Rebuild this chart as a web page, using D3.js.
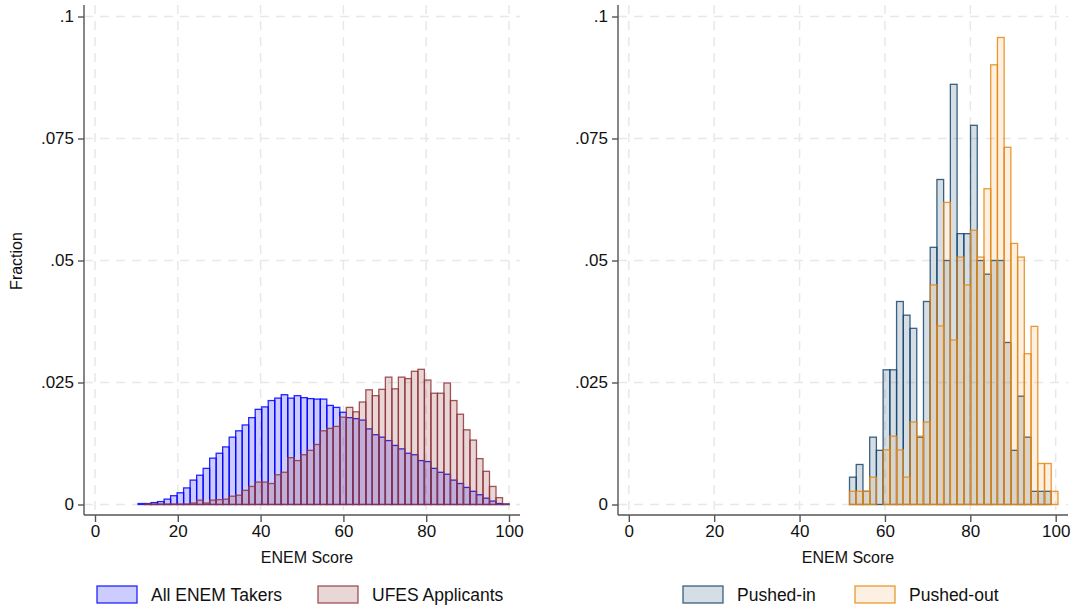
<!DOCTYPE html>
<html>
<head>
  <meta charset="UTF-8">
  <title>ENEM Score Histograms</title>
  <script src="https://d3js.org/d3.v7.min.js"></script>
  <style>
    body {
      margin: 0;
      padding: 0;
      background-color: #ffffff;
      font-family: 'Liberation Sans', Arial, Helvetica, sans-serif;
    }
    .axis text {
      font-size: 17px;
      fill: #111;
      font-family: 'Liberation Sans', Arial, Helvetica, sans-serif;
    }
    .axis path, .axis line {
      stroke: #555;
      stroke-width: 1.4;
    }
    .grid line {
      stroke: #e8e8e8;
      stroke-width: 1.5;
      stroke-dasharray: 9 7;
    }
    .label {
      font-size: 16px;
      fill: #111;
    }
    .legend {
      font-size: 17.5px;
      fill: #111;
    }
  </style>
</head>
<body>
  <svg id="chart" width="1073" height="610"></svg>
  <script>
    // left panel: all ENEM takers vs UFES applicants
    const leftStart = 10.4;
    const leftWidth = 1.572;
    const allTakers = [
      0.0002, 0.0002, 0.0004, 0.0006, 0.0011, 0.0018, 0.0024, 0.0034, 0.0050, 0.0060,
      0.0074, 0.0095, 0.0105, 0.0118, 0.0138, 0.0151, 0.0163, 0.0178, 0.0195, 0.0200,
      0.0213, 0.0218, 0.0225, 0.0218, 0.0223, 0.0219, 0.0217, 0.0216, 0.0216, 0.0203,
      0.0199, 0.0189, 0.0178, 0.0176, 0.0173, 0.0155, 0.0143, 0.0138, 0.0131, 0.0121,
      0.0114, 0.0105, 0.0102, 0.0090, 0.0088, 0.0074, 0.0066, 0.0062, 0.0050, 0.0043,
      0.0035, 0.0027, 0.0020, 0.0013, 0.0007, 0.0002, 0.0001
    ];
    const ufesApplicants = [
      0, 0.0001, 0.0001, 0.0001, 0.0001, 0.0001, 0.0001, 0.0001, 0.0003, 0.0009,
      0.0003, 0.0009, 0.0010, 0.0011, 0.0017, 0.0019, 0.0029, 0.0037, 0.0046, 0.0046,
      0.0043, 0.0061, 0.0066, 0.0096, 0.0090, 0.0102, 0.0111, 0.0123, 0.0151, 0.0156,
      0.0160, 0.0179, 0.0199, 0.0190, 0.0210, 0.0235, 0.0223, 0.0236, 0.0261, 0.0237,
      0.0261, 0.0258, 0.0273, 0.0277, 0.0255, 0.0228, 0.0228, 0.0249, 0.0213, 0.0185,
      0.0153, 0.0132, 0.0094, 0.0068, 0.0037, 0.0014, 0.0001
    ];

    // right panel: pushed-in vs pushed-out
    const rightStart = 51.7;
    const rightWidth = 1.575;
    const pushedIn = [
      0.0056, 0.0082, 0.0027, 0.0138, 0.0111, 0.0276, 0.0276, 0.0416, 0.0388, 0.0361,
      0.0138, 0.0416, 0.0527, 0.0666, 0.0500, 0.0861, 0.0555, 0.0555, 0.0777, 0.0500,
      0.0472, 0.0500, 0.0500, 0.0332, 0.0111, 0.0222, 0.0138, 0.0027, 0.0027, 0.0027,
      0
    ];
    const pushedOut = [
      0.0027, 0.0027, 0.0027, 0.0056, 0, 0.0112, 0.0140, 0.0112, 0.0056, 0.0169,
      0.0140, 0.0169, 0.0450, 0.0366, 0.0619, 0.0337, 0.0507, 0.0450, 0.0562, 0.0507,
      0.0647, 0.0901, 0.0957, 0.0732, 0.0535, 0.0507, 0.0309, 0.0365, 0.0084, 0.0084,
      0.0027
    ];

    const xTicks = [0, 20, 40, 60, 80, 100];
    const yTicks = [0, 0.025, 0.05, 0.075, 0.1];
    const yTickLabels = ["0", ".025", ".05", ".075", ".1"];

    const svg = d3.select("#chart");

    function drawPanel(opts) {
      const g = svg.append("g");
      const x = d3.scaleLinear().domain([0, 100]).range([opts.x0, opts.x100]);
      const y = d3.scaleLinear().domain([0, 0.1]).range([504.5, 16.5]);
      const top = 5, bottom = 515;

      // grid
      const grid = g.append("g").attr("class", "grid");
      grid.selectAll(".vg").data(xTicks).enter().append("line")
        .attr("x1", d => x(d)).attr("x2", d => x(d))
        .attr("y1", top).attr("y2", bottom);
      grid.selectAll(".hg").data(yTicks).enter().append("line")
        .attr("x1", opts.left).attr("x2", opts.right)
        .attr("y1", d => y(d)).attr("y2", d => y(d));

      // bars
      opts.series.forEach(function(s) {
        const bins = s.values.map(function(v, i) {
          return { x0: s.start + i * s.width, x1: s.start + (i + 1) * s.width, v: v };
        }).filter(d => d.v > 0);
        g.append("g").selectAll("rect").data(bins).enter().append("rect")
          .attr("x", d => x(d.x0))
          .attr("width", d => x(d.x1) - x(d.x0))
          .attr("y", d => y(d.v))
          .attr("height", d => y(0) - y(d.v))
          .attr("fill", s.color)
          .attr("fill-opacity", s.fillOpacity)
          .attr("stroke", s.color)
          .attr("stroke-opacity", 0.85)
          .attr("stroke-width", 1.3);
      });

      // axes
      const yAxis = d3.axisLeft(y).tickValues(yTicks)
        .tickFormat((d, i) => yTickLabels[i]).tickSize(6).tickPadding(4).tickSizeOuter(0);
      const ya = g.append("g").attr("class", "axis")
        .attr("transform", `translate(${opts.left},0)`)
        .call(yAxis);
      ya.select(".domain").attr("d", `M0,${top}V${bottom}`);

      const xAxis = d3.axisBottom(x).tickValues(xTicks).tickSize(7).tickPadding(3).tickSizeOuter(0);
      const xa = g.append("g").attr("class", "axis")
        .attr("transform", `translate(0,${bottom})`)
        .call(xAxis);
      xa.select(".domain").attr("d", `M${opts.left},0H${opts.right}`);

      g.append("text").attr("class", "label")
        .attr("x", (opts.left + opts.right) / 2 + 5).attr("y", 563)
        .attr("text-anchor", "middle")
        .text("ENEM Score");

      // legend
      opts.series.forEach(function(s) {
        g.append("rect")
          .attr("x", s.legendX).attr("y", 586)
          .attr("width", 40).attr("height", 17)
          .attr("fill", s.color).attr("fill-opacity", s.fillOpacity)
          .attr("stroke", s.color).attr("stroke-opacity", 0.85).attr("stroke-width", 1.3);
        g.append("text").attr("class", "legend")
          .attr("x", s.legendX + 54).attr("y", 601)
          .text(s.name);
      });
    }

    drawPanel({
      left: 84, right: 520, x0: 95, x100: 509,
      series: [
        { name: "All ENEM Takers", values: allTakers, start: leftStart, width: leftWidth,
          color: "#0000ff", fillOpacity: 0.2, legendX: 97 },
        { name: "UFES Applicants", values: ufesApplicants, start: leftStart, width: leftWidth,
          color: "#90353b", fillOpacity: 0.2, legendX: 318 }
      ]
    });

    drawPanel({
      left: 618, right: 1068, x0: 628.8, x100: 1055.7,
      series: [
        { name: "Pushed-in", values: pushedIn, start: rightStart, width: rightWidth,
          color: "#1a476f", fillOpacity: 0.18, legendX: 683 },
        { name: "Pushed-out", values: pushedOut, start: rightStart, width: rightWidth,
          color: "#e8870e", fillOpacity: 0.12, legendX: 855 }
      ]
    });

    svg.append("text").attr("class", "label")
      .attr("transform", "translate(22,261) rotate(-90)")
      .attr("text-anchor", "middle")
      .text("Fraction");
  </script>
</body>
</html>
